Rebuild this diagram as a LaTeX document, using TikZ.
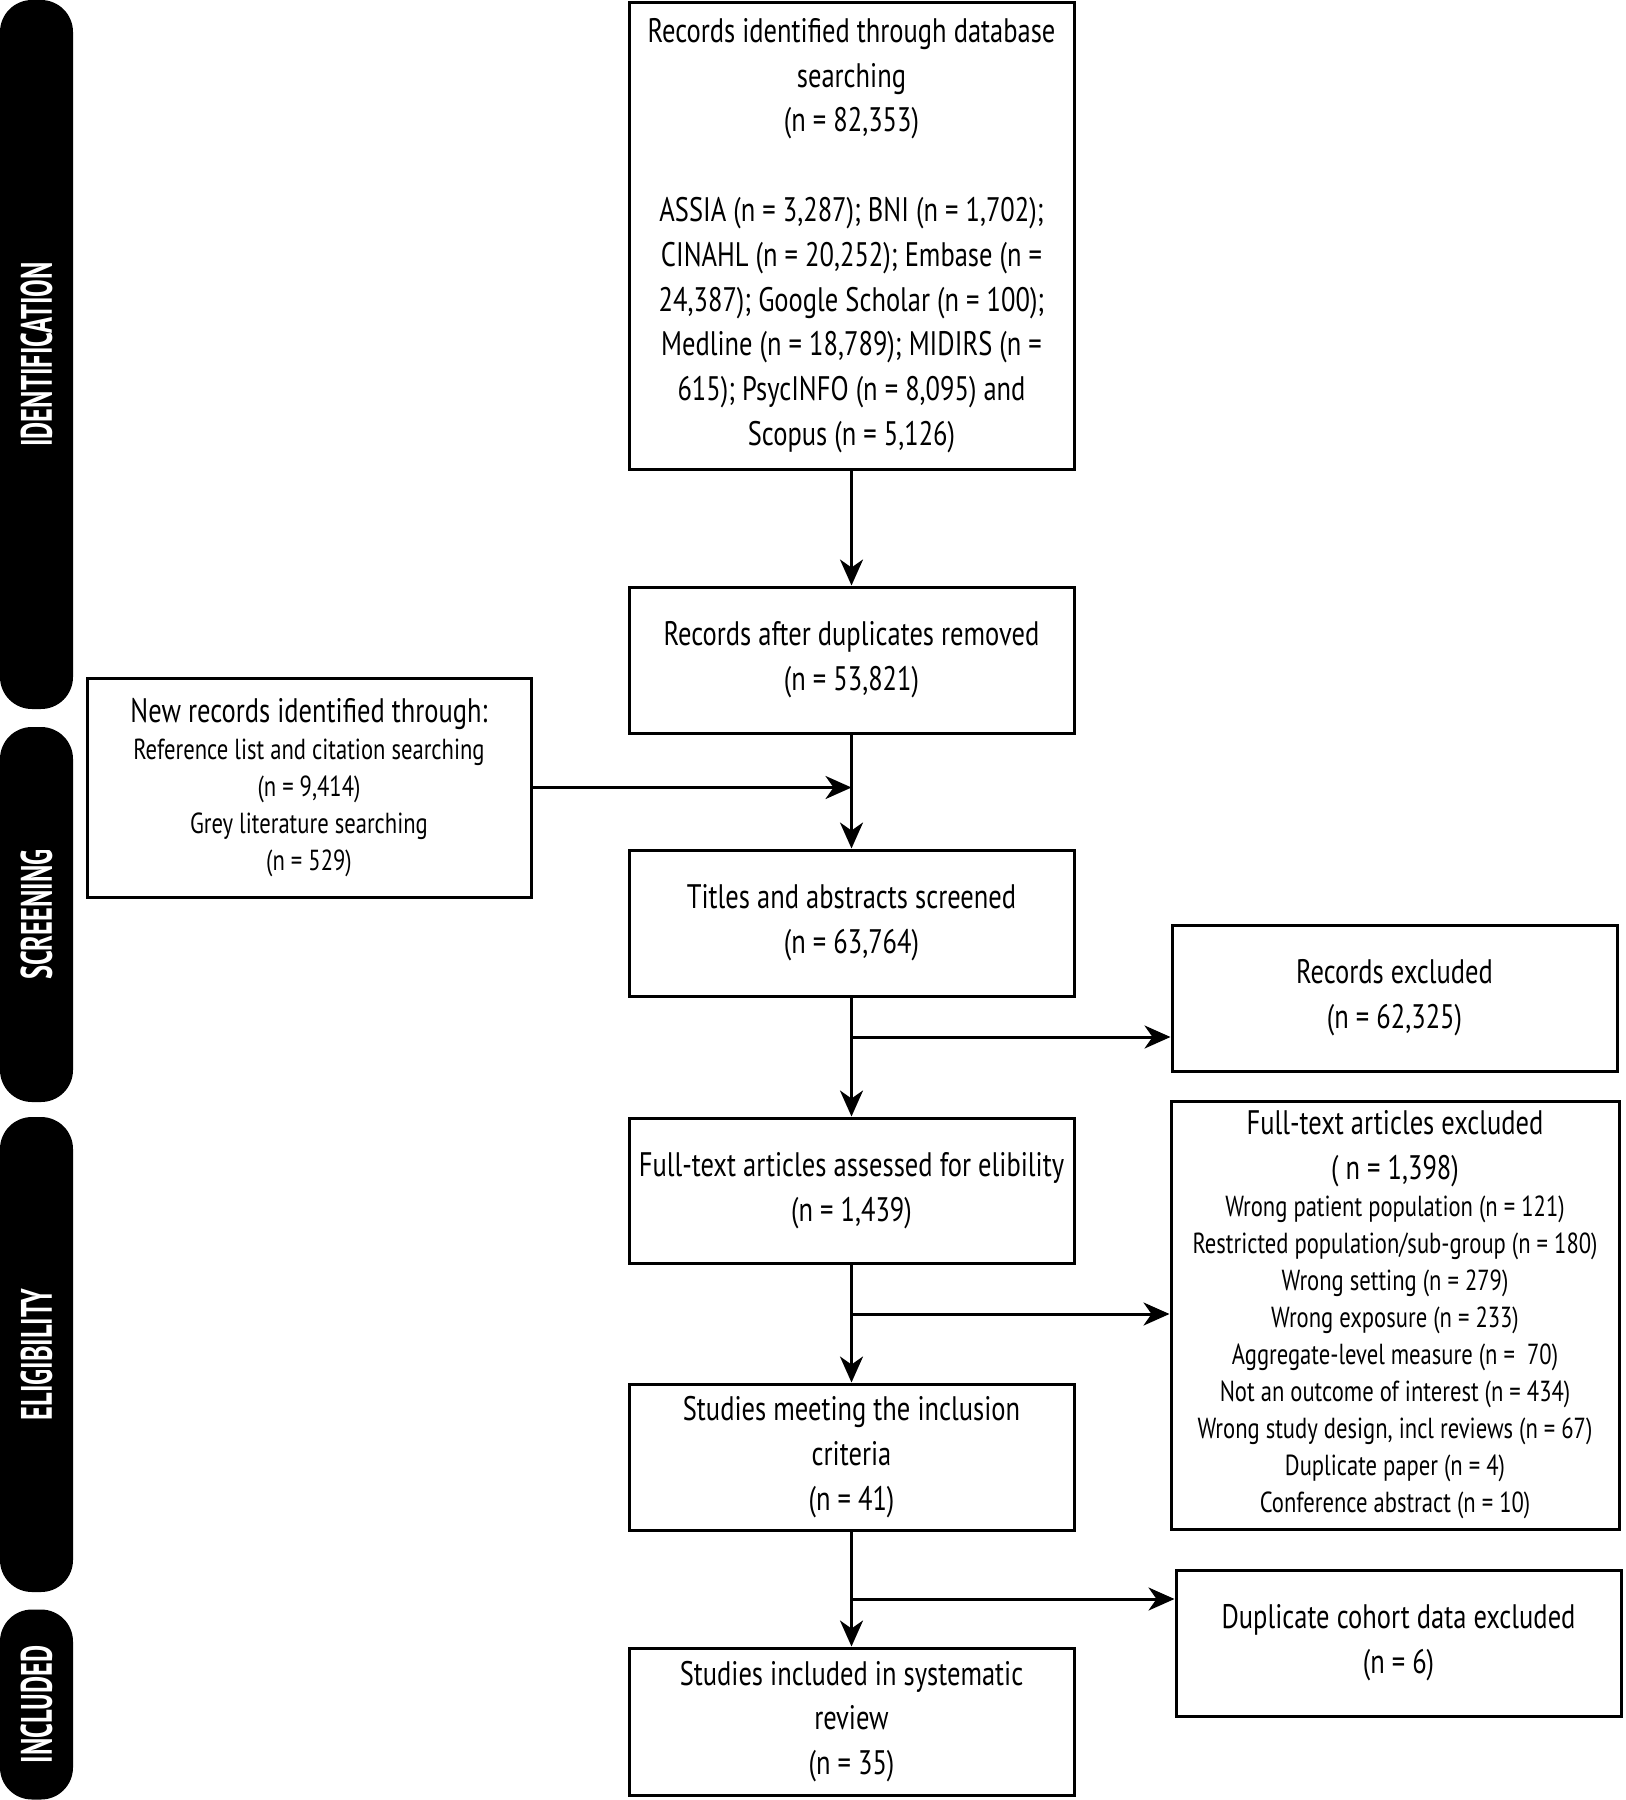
\documentclass[tikz,border=0pt]{standalone}
\usepackage{fontspec}
\setmainfont{PT Sans}[FakeStretch=0.78]
\newfontfamily\barfamily{PT Sans}[FakeStretch=0.6]
\usetikzlibrary{arrows.meta}
\newcommand{\mainfs}{\fontsize{17pt}{22.4pt}\selectfont}
\newcommand{\smallfs}{\fontsize{14.5pt}{18.5pt}\selectfont}
\newcommand{\barfs}{\barfamily\bfseries\fontsize{22pt}{24pt}\selectfont}
\tikzset{
 box/.style={draw, line width=1.5pt, minimum width=222.5pt, minimum height=73pt, inner sep=2pt, align=center, font=\mainfs},
 parbox/.style={box, align=flush center},
 arr/.style={line width=1.5pt, -{Stealth[length=13pt,width=11.5pt,inset=4pt]}},
 bar/.style={fill=black, text=white, rounded corners=16pt, rotate=90, minimum height=36.5pt, inner sep=0pt, font=\barfs},
}
\begin{document}
\begin{tikzpicture}[x=0.5pt,y=-0.5pt]
\useasboundingbox (0,0) rectangle (1626,1800);
% phase bars
\node[bar, minimum width=354.5pt] (bid) at (36.5,354.5) {IDENTIFICATION};
\node[bar, minimum width=187.5pt] (bsc) at (36.5,914.5) {SCREENING};
\node[bar, minimum width=237.5pt] (bel) at (36.5,1354.5) {ELIGIBILITY};
\node[bar, minimum width=95pt] (bin) at (36.5,1704.5) {INCLUDED};
% boxes
\node[box, minimum height=233.5pt] (ident) at (851.5,235.5) {Records identified through database\\searching\\(n = 82,353)\\ \\ASSIA (n = 3,287); BNI (n = 1,702);\\CINAHL (n = 20,252); Embase (n =\\24,387); Google Scholar (n = 100);\\Medline (n = 18,789); MIDIRS (n =\\615); PsycINFO (n = 8,095) and\\Scopus (n = 5,126)};
\node[box] (dup) at (851.5,660) {Records after duplicates removed\\(n = 53,821)};
\node[parbox, minimum width=222pt, minimum height=109.5pt, text width=215pt] (newrec) at (309,787.5) {{\mainfs New records identified through:\par}{\smallfs Reference list and citation searching\par (n = 9,414)\par Grey literature searching\par (n = 529)\par}};
\node[box] (titles) at (851.5,923) {Titles and abstracts screened\\(n = 63,764)};
\node[box] (recexc) at (1394.5,998) {Records excluded\\(n = 62,325)};
\node[box, minimum height=72.5pt] (ftassess) at (851.5,1190.5) {Full-text articles assessed for elibility\\(n = 1,439)};
\node[parbox, minimum width=223pt, minimum height=214pt, text width=220pt] (ftexc) at (1395,1315) {{\mainfs Full-text articles excluded\par ( n = 1,398)\par}{\smallfs Wrong patient population (n = 121)\par Restricted population/sub-group (n = 180)\par Wrong setting (n = 279)\par Wrong exposure (n = 233)\par Aggregate-level measure (n = \ 70)\par Not an outcome of interest (n = 434)\par Wrong study design, incl reviews (n = 67)\par Duplicate paper (n = 4)\par Conference abstract (n = 10)\par}};
\node[box] (meeting) at (851.5,1457) {Studies meeting the inclusion\\criteria\\(n = 41)};
\node[box] (dupcoh) at (1398.5,1643) {Duplicate cohort data excluded\\(n = 6)};
\node[box, minimum height=73.5pt] (included) at (851.5,1721.5) {Studies included in systematic\\review\\(n = 35)};
% connectors
\coordinate (b1) at (851.5,1037);
\coordinate (b2) at (851.5,1314);
\coordinate (b3) at (851.5,1599);
\draw[arr] (ident.south) -- (dup.north);
\draw[arr] (dup.south) -- (titles.north);
\draw[arr] (newrec.east) -- (newrec.east -| dup.south);
\draw[arr] (titles.south) -- (ftassess.north);
\draw[arr] (b1) -- (b1 -| recexc.west);
\draw[arr] (ftassess.south) -- (meeting.north);
\draw[arr] (b2) -- (b2 -| ftexc.west);
\draw[arr] (meeting.south) -- (included.north);
\draw[arr] (b3) -- (b3 -| dupcoh.west);
\end{tikzpicture}
\end{document}
